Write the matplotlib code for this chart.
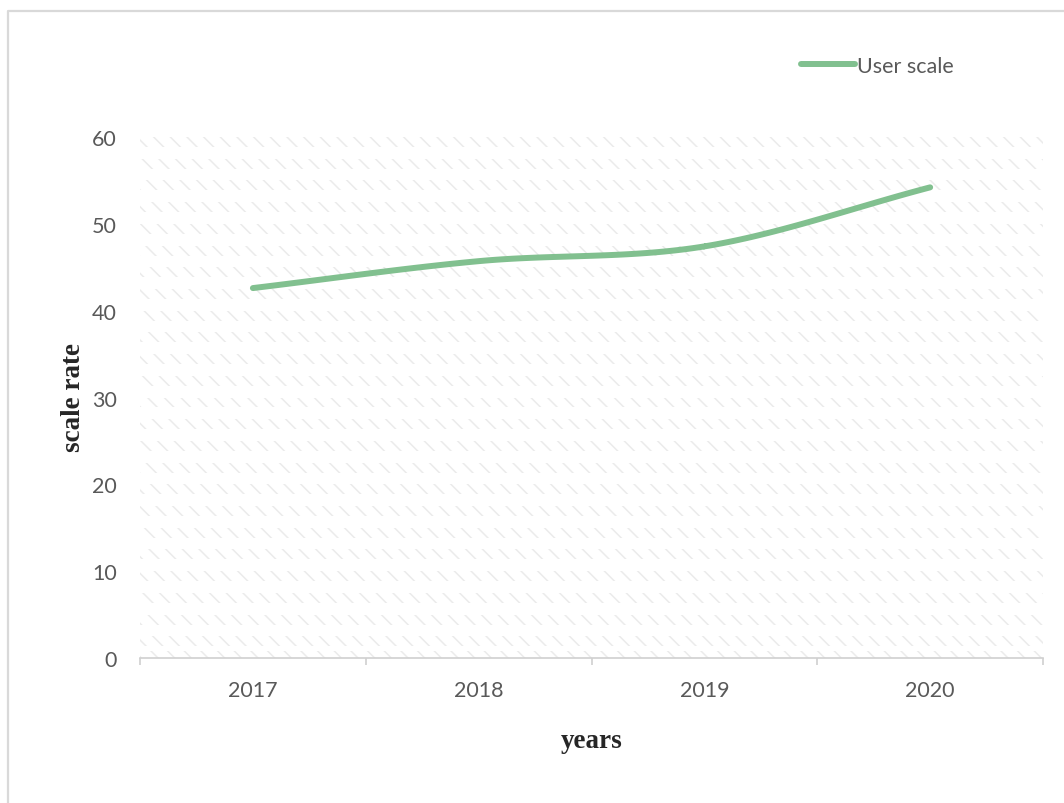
import numpy as np
import matplotlib
matplotlib.use('Agg')
from matplotlib import pyplot as plt
from matplotlib.lines import Line2D

years = ['2017', '2018', '2019', '2020']
user_scale = [42.6, 45.7, 47.4, 54.2]
y_ticks = [0, 10, 20, 30, 40, 50, 60]

GREEN = '#81c08f'
GRAY_TXT = '#595959'
GRID = '#ebebeb'


def smooth(xs, ys, steps=40):
	# catmull-rom spline through the points, like excel's smoothed line
	xs = np.asarray(xs, float)
	ys = np.asarray(ys, float)
	px = np.concatenate([[2 * xs[0] - xs[1]], xs, [2 * xs[-1] - xs[-2]]])
	py = np.concatenate([[2 * ys[0] - ys[1]], ys, [2 * ys[-1] - ys[-2]]])
	ox, oy = [], []
	for i in range(1, len(px) - 2):
		t = np.linspace(0, 1, steps)
		for arr, out in ((px, ox), (py, oy)):
			p0, p1, p2, p3 = arr[i - 1], arr[i], arr[i + 1], arr[i + 2]
			out.extend(0.5 * ((2 * p1) + (-p0 + p2) * t +
				(2 * p0 - 5 * p1 + 4 * p2 - p3) * t ** 2 +
				(-p0 + 3 * p1 - 3 * p2 + p3) * t ** 3))
	return ox, oy


plt.rcParams['hatch.linewidth'] = 1.1
fig = plt.figure(figsize=(10.64, 8.04), dpi=100)
ax = fig.add_axes([0.1316, 0.1803, 0.8487, 0.6481])

# hatched grid bands, every 2.5 units
for v in np.arange(2.5, 60.01, 2.5):
	ax.axhspan(v - 1.15, v, facecolor='none', edgecolor=GRID, hatch='\\\\', linewidth=0, zorder=0)
ax.axhspan(0.05, 0.8, facecolor='none', edgecolor=GRID, hatch='\\\\', linewidth=0, zorder=0)

x = list(range(len(years)))
sx, sy = smooth(x, user_scale)
ax.plot(sx, sy, color=GREEN, linewidth=4.3, solid_capstyle='round', zorder=3)

ax.set_xlim(-0.5, len(years) - 0.5)
ax.set_ylim(0, 60)
ax.set_yticks(y_ticks)
ax.set_xticks(x)
ax.set_xticklabels(years)
ax.set_xticks(np.arange(-0.5, len(years), 1), minor=True)
ax.tick_params(axis='x', which='major', length=0, pad=16, labelsize=15.5, labelcolor=GRAY_TXT)
ax.tick_params(axis='x', which='minor', length=5, width=1.2, color='#d0d0d0')
ax.tick_params(axis='y', length=0, pad=16.5, labelsize=15.5, labelcolor=GRAY_TXT)
for lab in ax.get_xticklabels() + ax.get_yticklabels():
	lab.set_family('Lato')
for s in ['top', 'right', 'left']:
	ax.spines[s].set_visible(False)
ax.spines['bottom'].set_color('#d0d0d0')
ax.spines['bottom'].set_linewidth(1.2)

fig.text(0.5564, 0.078, 'years', ha='center', va='center', fontsize=19.5,
	fontweight='bold', family='Liberation Serif', color='#262626')
fig.text(0.0695, 0.506, 'scale rate', ha='center', va='center', rotation=90,
	fontsize=19.5, fontweight='bold', family='Liberation Serif', color='#262626')

handle = Line2D([], [], color=GREEN, linewidth=4.3, solid_capstyle='round')
leg = ax.legend([handle], ['User scale'], loc='center', bbox_to_anchor=(0.825, 0.9167),
	bbox_transform=fig.transFigure, frameon=False, handlelength=2.5, handletextpad=0.1,
	prop={'family': 'Lato', 'size': 15.5})
for t in leg.get_texts():
	t.set_color(GRAY_TXT)

# outer chart frame
fig.add_artist(Line2D([0.0075, 0.0075, 1.0], [0.0, 0.985, 0.985], transform=fig.transFigure,
	color='#d9d9d9', linewidth=1.6))

plt.savefig('out.png', dpi=100)
